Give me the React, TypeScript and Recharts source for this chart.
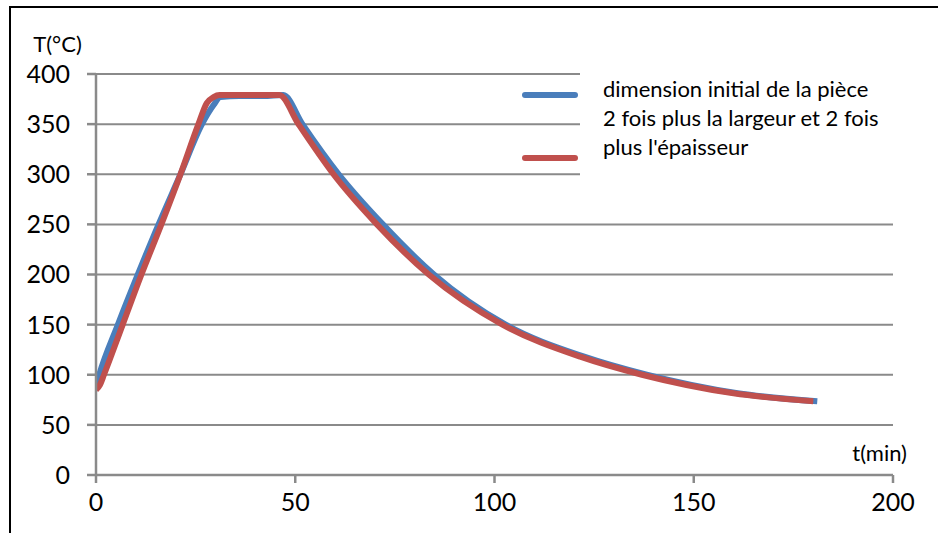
import { LineChart, Line, XAxis, YAxis, CartesianGrid } from "recharts";

// courbe bleue : dimension initiale
const blueTime = [0, 0.8, 5.5, 10.5, 15.7, 21.2, 26.6, 29.5, 31.2, 36, 42, 47, 51.8, 60.9, 72, 84.8, 102.8, 122.5, 138.2, 161, 181];
const blueTemp = [89, 100, 150, 200, 250, 300, 350, 369, 377, 378, 378, 379, 350, 300, 250, 200, 150, 118, 100, 81.5, 73.5];

// courbe rouge : 2 fois la largeur et l'épaisseur
const redTime = [0, 1, 2, 6.7, 11.4, 16.4, 21.2, 25.7, 27.8, 29.5, 31, 38, 46, 50.8, 59.6, 70.5, 83.5, 102, 121.5, 137, 160, 180];
const redTemp = [85, 90, 100, 150, 200, 250, 300, 350, 371, 377, 379, 379, 379, 350, 300, 250, 200, 150, 118, 100, 81.5, 73.5];

const xTicks = [0, 50, 100, 150, 200];
const yTicks = [0, 50, 100, 150, 200, 250, 300, 350, 400];

const seriesNames = ["dimension initial de la pièce", "2 fois plus la largeur et 2 fois plus l'épaisseur"];

const blueData = blueTime.map((t, i) => ({ t, T: blueTemp[i] }));
const redData = redTime.map((t, i) => ({ t, T: redTemp[i] }));

const FONT = "Lato, 'Open Sans', sans-serif";
const GRID = "#8a8a8a";

function LegendBox() {
  return (
    <div style={{ position: "absolute", left: 522, top: 62, width: 380, height: 125, fontFamily: FONT, fontSize: 22, color: "#000" }}>
      <div style={{ position: "absolute", left: 58, top: 0, width: 322, height: 125, background: "#fff" }} />
      <div style={{ position: "absolute", left: 0, top: 30, width: 56, height: 6, borderRadius: 3, background: "#4a7ebb" }} />
      <div style={{ position: "absolute", left: 0, top: 93, width: 56, height: 6, borderRadius: 3, background: "#c0504d" }} />
      <div style={{ position: "absolute", left: 81, top: 12, width: 290, lineHeight: "29px" }}>
        <div>{seriesNames[0]}</div>
        <div>{seriesNames[1]}</div>
      </div>
    </div>
  );
}

export default function App() {
  return (
    <div style={{ position: "absolute", left: 0, top: 0, width: 938, height: 533, overflow: "hidden", background: "#fff" }}>
      <div style={{ position: "absolute", left: 9, top: 6, width: 1000, height: 600, border: "2px solid #000" }} />
      <LineChart width={938} height={533} margin={{ top: 74, right: 45, bottom: 8, left: 11 }}>
        <CartesianGrid horizontal vertical={false} stroke={GRID} strokeWidth={2} />
        <XAxis
          dataKey="t"
          type="number"
          domain={[0, 200]}
          ticks={xTicks}
          allowDataOverflow
          height={50}
          stroke={GRID}
          strokeWidth={2.5}
          tickSize={8}
          tickMargin={10}
          tick={{ fill: "#000", fontSize: 25, fontFamily: FONT }}
          label={(props: any) => {
            const vb = props.viewBox;
            return (
              <text x={vb.x + vb.width + 14} y={vb.y - 14} textAnchor="end" fontSize={22} fontFamily={FONT} fill="#000">
                t(min)
              </text>
            );
          }}
        />
        <YAxis
          dataKey="T"
          type="number"
          domain={[0, 400]}
          ticks={yTicks}
          width={85}
          stroke={GRID}
          strokeWidth={2.5}
          tickSize={9}
          tickMargin={17}
          tick={{ fill: "#000", fontSize: 25, fontFamily: FONT }}
          label={{ value: "T(°C)", position: "top", offset: 22, dx: 4, fontSize: 22, fontFamily: FONT, fill: "#000" }}
        />
        <Line data={blueData} dataKey="T" type="monotone" stroke="#4a7ebb" strokeWidth={6} dot={false} isAnimationActive={false} />
        <Line data={redData} dataKey="T" type="monotone" stroke="#c0504d" strokeWidth={6} dot={false} isAnimationActive={false} />
      </LineChart>
      <LegendBox />
    </div>
  );
}
